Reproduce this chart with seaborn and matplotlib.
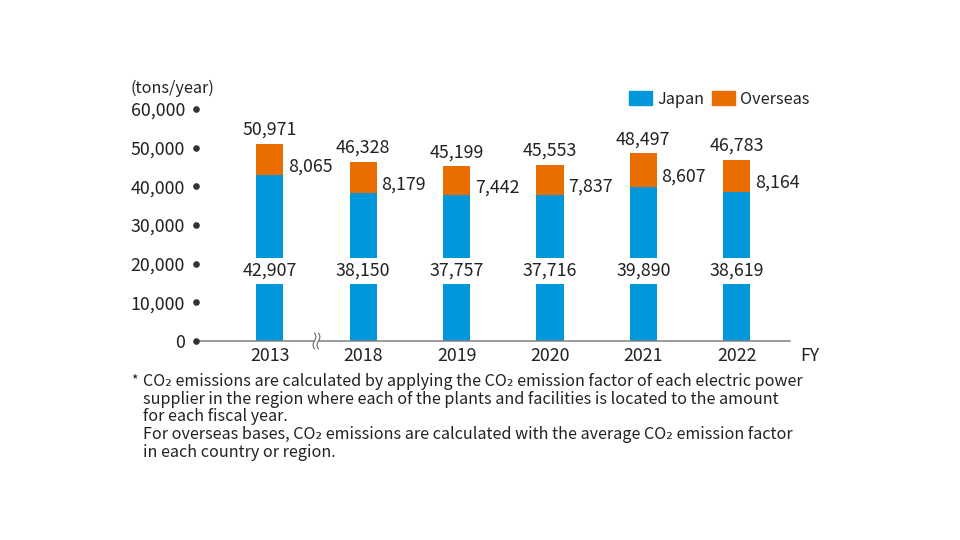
import matplotlib
matplotlib.use("Agg")
import matplotlib.pyplot as plt
import matplotlib.transforms as mtransforms
import numpy as np
import pandas as pd
import seaborn as sns
from matplotlib.patches import Patch

years = ["2013", "2018", "2019", "2020", "2021", "2022"]
japan = [42907, 38150, 37757, 37716, 39890, 38619]
overseas = [8065, 8179, 7442, 7837, 8607, 8164]
totals = [50971, 46328, 45199, 45553, 48497, 46783]
yticks = [0, 10000, 20000, 30000, 40000, 50000, 60000]

BLUE = "#0097DB"
ORANGE = "#EA6D00"
TXT = "#222222"

sns.set_theme(style="white")
plt.rcParams['font.family'] = ['Noto Sans CJK JP', 'DejaVu Sans']

df = pd.DataFrame({"year": years, "japan": japan, "overseas": overseas, "total": totals})

fig = plt.figure(figsize=(9.6, 5.4), dpi=100)
ax = fig.add_axes([196/960, 1-341/540, (790-196)/960, (341-109)/540])

sns.barplot(data=df, x="year", y="total", color=ORANGE, width=0.29, ax=ax, saturation=1, linewidth=0)
sns.barplot(data=df, x="year", y="japan", color=BLUE, width=0.29, ax=ax, saturation=1, linewidth=0)

ax.set_xlim(-0.79, 5.57)
ax.set_ylim(0, 60000)
for s in ["top", "right", "left"]:
    ax.spines[s].set_visible(False)
ax.spines["bottom"].set_color("#808080")
ax.spines["bottom"].set_linewidth(1.1)
ax.set_xlabel("")
ax.set_ylabel("")

fs = 12.8
ax.set_yticks(yticks)
ax.set_yticklabels([f"{v:,}" for v in yticks], fontsize=fs, color=TXT)
ax.tick_params(axis="y", length=0, pad=8)
ax.tick_params(axis="x", length=0, pad=4, labelsize=fs, labelcolor=TXT)

# tick dots
tr = mtransforms.blended_transform_factory(ax.transAxes, ax.transData)
ax.scatter([0]*len(yticks), yticks, s=14, color="#333333", transform=tr, clip_on=False, zorder=5)

hw = 0.29/2
for i in range(len(years)):
    ax.text(i, totals[i] + 1300, f"{totals[i]:,}", ha="center", va="bottom", fontsize=fs, color=TXT)
    ax.text(i + hw + 0.05, japan[i] + overseas[i]/2 - 1800, f"{overseas[i]:,}", ha="left", va="center",
            fontsize=fs, color=TXT)
    ax.text(i, 18100, f"{japan[i]:,}", ha="center", va="center", fontsize=fs, color=TXT,
            bbox=dict(boxstyle="square,pad=0.22", fc="white", ec="none"), zorder=6)

# axis break mark between 2013 and 2018
t = mtransforms.blended_transform_factory(ax.transData, ax.transAxes)
ax.add_patch(plt.Rectangle((0.5 - 2.0/93.4, -8/232), 4.0/93.4, 16/232, transform=t,
             fc="white", ec="none", clip_on=False, zorder=6))
yy = np.linspace(-8, 8, 40)
for dx in (-2.0, 2.0):
    xx = dx + 1.4*np.sin(yy/8*np.pi)
    ax.plot(0.5 + xx/93.4, yy/232.0, color="#666666", lw=0.8,
            transform=t, clip_on=False, zorder=7)

fig.text(800/960, 1-356/540, "FY", ha="left", va="center", fontsize=fs, color=TXT)
fig.text(131/960, 1-88/540, "(tons/year)", ha="left", va="center", fontsize=11.7, color=TXT)

lfs = 11.7
handles = [Patch(color=BLUE, label="Japan"), Patch(color=ORANGE, label="Overseas")]
fig.legend(handles=handles, loc="center right", bbox_to_anchor=(824/960, 1-99/540), ncol=2,
           frameon=False, fontsize=lfs, handlelength=1.42, handleheight=1.0, handletextpad=0.3,
           columnspacing=0.5, labelcolor=TXT)

note = ("CO₂ emissions are calculated by applying the CO₂ emission factor of each electric power\n"
        "supplier in the region where each of the plants and facilities is located to the amount\n"
        "for each fiscal year.\n"
        "For overseas bases, CO₂ emissions are calculated with the average CO₂ emission factor\n"
        "in each country or region.")
fig.text(131/960, 1-380/540, "*", ha="left", va="center", fontsize=10, color=TXT)
fig.text(143/960, 1-373/540, note, ha="left", va="top", fontsize=11.65, color=TXT, linespacing=1.05)

fig.savefig("out.png", dpi=100)
